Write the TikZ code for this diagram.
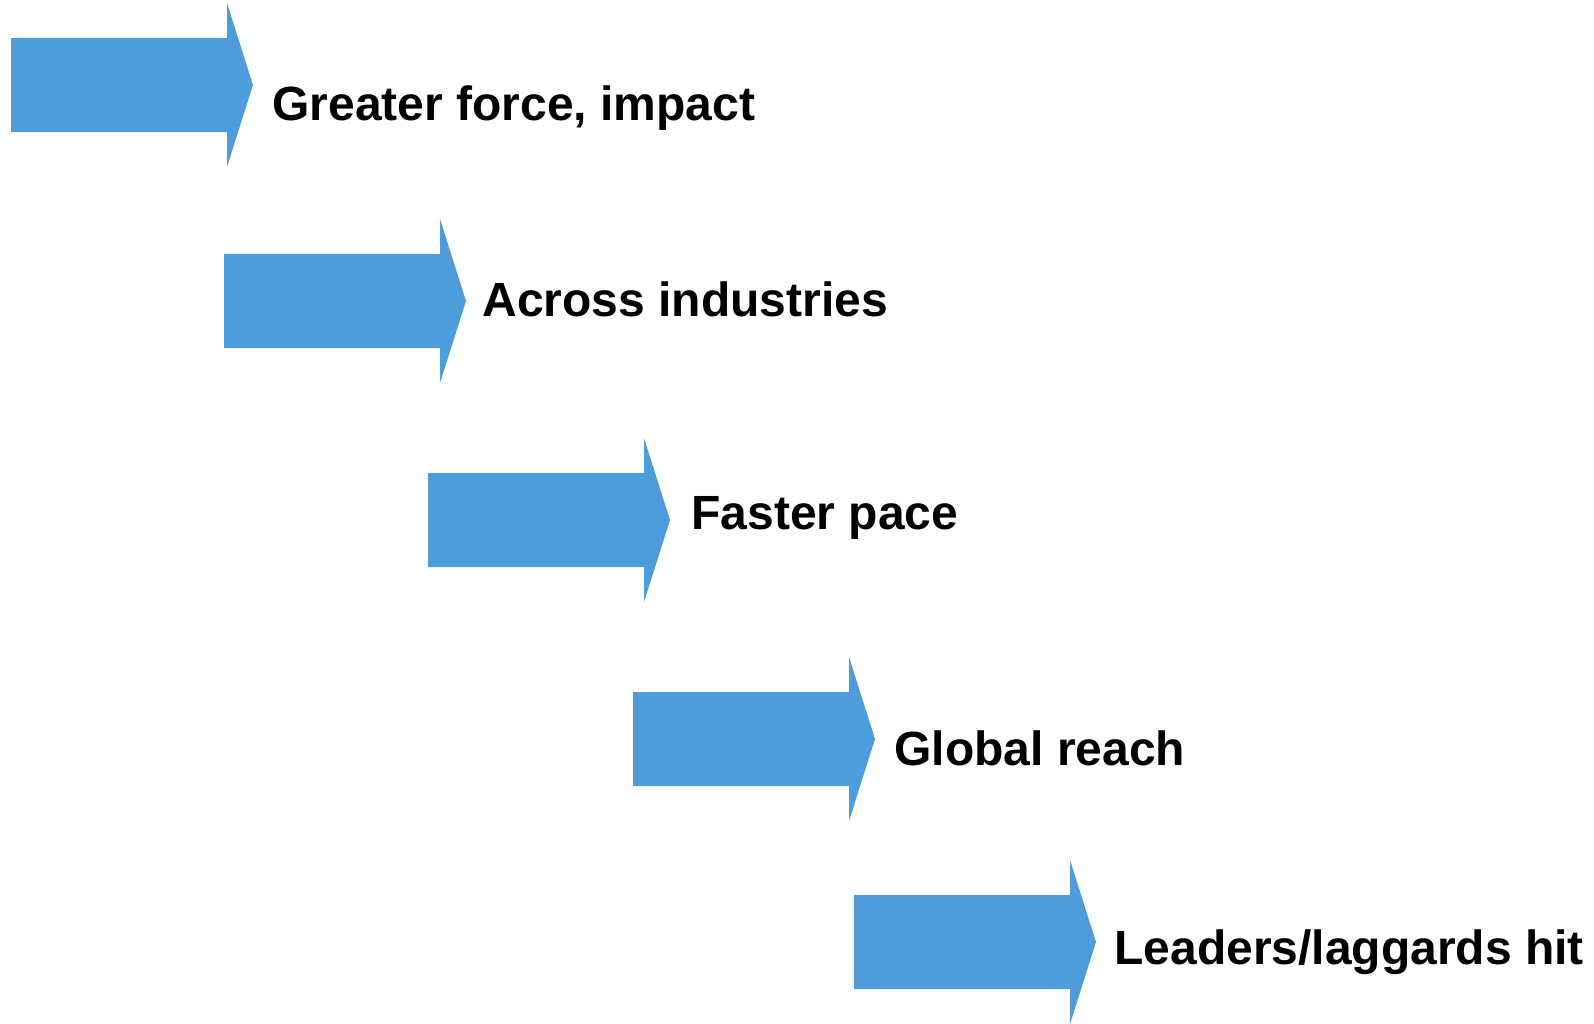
\documentclass[tikz,border=0pt]{standalone}
\usepackage{fontspec}
\setmainfont{Liberation Sans}
\definecolor{mblue}{RGB}{77,156,220}

\begin{document}
\begin{tikzpicture}[x=0.5pt, y=-0.5pt,
    steplabel/.style={anchor=base west, inner sep=0pt, font=\fontsize{24}{28}\selectfont\bfseries}]
          \useasboundingbox (0, 0) rectangle (1594, 1023);

          \foreach \x/\y in {11/85, 224/301, 428/520, 633/739, 854/942}
            \fill [mblue] (\x, \y-47) -- ++(216, 0) -- ++(0, -35) -- (\x+242, \y) -- (\x+216, \y+82) -- ++(0, -35) -- (\x, \y+47) -- cycle;

          \node [steplabel] (force) at (272, 120) {Greater force, impact};
          \node [steplabel] (industries) at (482, 316) {Across industries};
          \node [steplabel] (pace) at (691, 529) {Faster pace};
          \node [steplabel] (reach) at (894, 765) {Global reach};
          \node [steplabel] (leaders) at (1114, 964) {Leaders/laggards hit};
        \end{tikzpicture}
\end{document}
